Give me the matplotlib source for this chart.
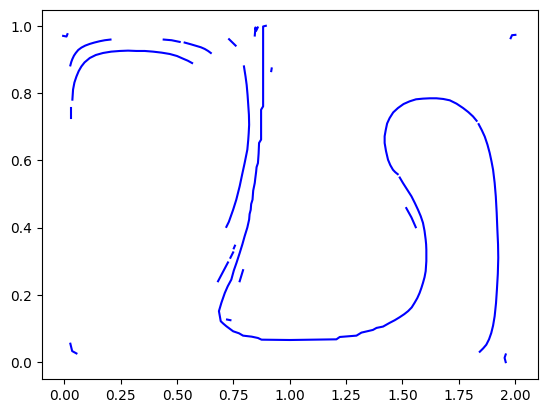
import matplotlib
matplotlib.use("Agg")
import matplotlib.pyplot as plt
import numpy as np

# contour pieces (x, y in data units)

# left cap: inner arc
inner_arc_x = [0.036, 0.039, 0.045, 0.054, 0.064, 0.076, 0.090, 0.113, 0.140, 0.172, 0.208,
               0.246, 0.283, 0.320, 0.357, 0.394, 0.432, 0.468, 0.500, 0.527, 0.548, 0.567]
inner_arc_y = [0.781, 0.811, 0.832, 0.850, 0.866, 0.880, 0.892, 0.905, 0.914, 0.920, 0.924,
               0.926, 0.927, 0.926, 0.926, 0.924, 0.921, 0.917, 0.911, 0.903, 0.897, 0.890]
inner_tail_x = [0.031, 0.031]
inner_tail_y = [0.756, 0.727]

# left cap: outer arc and its dashes
outer_arc_x = [0.027, 0.031, 0.036, 0.043, 0.051, 0.062, 0.076, 0.093, 0.113, 0.133, 0.157, 0.180, 0.205]
outer_arc_y = [0.883, 0.893, 0.902, 0.912, 0.920, 0.929, 0.936, 0.942, 0.947, 0.951, 0.955, 0.958, 0.960]
outer_dash1_x = [0.441, 0.476, 0.512]
outer_dash1_y = [0.960, 0.958, 0.953]
outer_dash2_x = [0.534, 0.561, 0.586, 0.606, 0.623, 0.638, 0.650]
outer_dash2_y = [0.951, 0.946, 0.941, 0.937, 0.932, 0.926, 0.920]
outer_dash3_x = [0.731, 0.760]
outer_dash3_y = [0.961, 0.942]

# long curve left of the stem
stem_left_x = [0.797, 0.804, 0.809, 0.813, 0.816, 0.819, 0.820, 0.818, 0.816, 0.812, 0.806,
               0.800, 0.789, 0.778, 0.763, 0.749, 0.730, 0.719]
stem_left_y = [0.880, 0.850, 0.825, 0.795, 0.766, 0.736, 0.706, 0.680, 0.661, 0.632, 0.612,
               0.592, 0.558, 0.523, 0.483, 0.453, 0.417, 0.402]

# main contour, three pieces
main1_x = [0.894, 0.882, 0.882, 0.882, 0.873, 0.873, 0.864, 0.862, 0.859, 0.853, 0.851, 0.847,
           0.845, 0.838, 0.835, 0.829, 0.827, 0.822, 0.820, 0.812, 0.800, 0.790, 0.778,
           0.764, 0.752, 0.741, 0.725, 0.712, 0.697, 0.686, 0.690, 0.694, 0.705, 0.719,
           0.735, 0.749, 0.775, 0.793, 0.831, 0.859, 0.875, 1.000, 1.207, 1.222, 1.296,
           1.318, 1.369, 1.385, 1.414, 1.443, 1.466, 1.488, 1.508, 1.525, 1.541, 1.554,
           1.566, 1.576, 1.584, 1.591, 1.598, 1.603, 1.606, 1.606, 1.605, 1.603, 1.598,
           1.591, 1.581, 1.569, 1.555, 1.540, 1.521, 1.502, 1.488]
main1_y = [1.001, 0.999, 0.900, 0.761, 0.751, 0.662, 0.652, 0.620, 0.592, 0.580, 0.566, 0.545,
           0.533, 0.510, 0.483, 0.470, 0.453, 0.440, 0.424, 0.400, 0.374, 0.350, 0.324,
           0.295, 0.272, 0.245, 0.225, 0.205, 0.176, 0.151, 0.136, 0.121, 0.114, 0.106,
           0.098, 0.091, 0.085, 0.078, 0.075, 0.071, 0.066, 0.065, 0.067, 0.074, 0.078,
           0.087, 0.095, 0.101, 0.105, 0.116, 0.124, 0.133, 0.142, 0.151, 0.162, 0.176,
           0.190, 0.205, 0.220, 0.235, 0.252, 0.270, 0.300, 0.334, 0.350, 0.364, 0.390,
           0.414, 0.434, 0.453, 0.473, 0.493, 0.513, 0.533, 0.549]
main2_x = [1.479, 1.468, 1.458, 1.446, 1.436, 1.427, 1.421, 1.421, 1.426, 1.432, 1.443, 1.459,
           1.480, 1.505, 1.532, 1.560, 1.591, 1.621, 1.651, 1.681, 1.710, 1.740, 1.769,
           1.792, 1.813, 1.829]
main2_y = [0.559, 0.565, 0.572, 0.586, 0.602, 0.628, 0.652, 0.672, 0.691, 0.710, 0.726, 0.743,
           0.756, 0.768, 0.776, 0.782, 0.784, 0.785, 0.785, 0.783, 0.779, 0.769, 0.756,
           0.744, 0.731, 0.718]
main3_x = [1.838, 1.852, 1.865, 1.877, 1.887, 1.895, 1.902, 1.909, 1.914, 1.918, 1.921, 1.924,
           1.925, 1.923, 1.919, 1.915, 1.909, 1.902, 1.894, 1.884, 1.872, 1.858, 1.843]
main3_y = [0.708, 0.690, 0.671, 0.647, 0.622, 0.597, 0.572, 0.533, 0.493, 0.444, 0.394, 0.350,
           0.310, 0.262, 0.215, 0.175, 0.136, 0.108, 0.086, 0.067, 0.051, 0.040, 0.030]

# small dashes and specks
dash_a_x = [0.682, 0.726]
dash_a_y = [0.240, 0.296]
dash_b_x = [0.737, 0.749]
dash_b_y = [0.310, 0.326]
dash_c_x = [0.752, 0.757]
dash_c_y = [0.338, 0.346]
dash_d_x = [0.793, 0.778]
dash_d_y = [0.273, 0.240]
dash_e_x = [0.722, 0.737]
dash_e_y = [0.126, 0.124]
loop_dash_x = [1.517, 1.540, 1.559]
loop_dash_y = [0.458, 0.430, 0.401]
top_k_x = [0.845, 0.848, 0.851, 0.858]
top_k_y = [0.972, 0.996, 0.986, 0.996]
speck_x = [0.918, 0.920]
speck_y = [0.866, 0.874]
corner_tl_x = [-0.005, 0.010, 0.014]
corner_tl_y = [0.971, 0.969, 0.976]
corner_bl_x = [0.027, 0.035, 0.054]
corner_bl_y = [0.054, 0.032, 0.025]
corner_tr_x = [1.980, 1.986, 2.001]
corner_tr_y = [0.964, 0.973, 0.974]
corner_br_x = [1.958, 1.953, 1.958]
corner_br_y = [0.022, 0.012, -0.001]

pieces = [
    (inner_arc_x, inner_arc_y), (inner_tail_x, inner_tail_y),
    (outer_arc_x, outer_arc_y), (outer_dash1_x, outer_dash1_y),
    (outer_dash2_x, outer_dash2_y), (outer_dash3_x, outer_dash3_y),
    (stem_left_x, stem_left_y),
    (main1_x, main1_y), (main2_x, main2_y), (main3_x, main3_y),
    (dash_a_x, dash_a_y), (dash_b_x, dash_b_y), (dash_c_x, dash_c_y),
    (dash_d_x, dash_d_y), (dash_e_x, dash_e_y), (loop_dash_x, loop_dash_y),
    (top_k_x, top_k_y), (speck_x, speck_y),
    (corner_tl_x, corner_tl_y), (corner_bl_x, corner_bl_y),
    (corner_tr_x, corner_tr_y), (corner_br_x, corner_br_y),
]

fig, ax = plt.subplots(figsize=(6.4, 4.8))
for px, py in pieces:
    ax.plot(px, py, 'b-')

ax.set_xlim(-0.1, 2.1)
ax.set_ylim(-0.052, 1.049)

fig.savefig("out.png", dpi=100, bbox_inches="tight")
